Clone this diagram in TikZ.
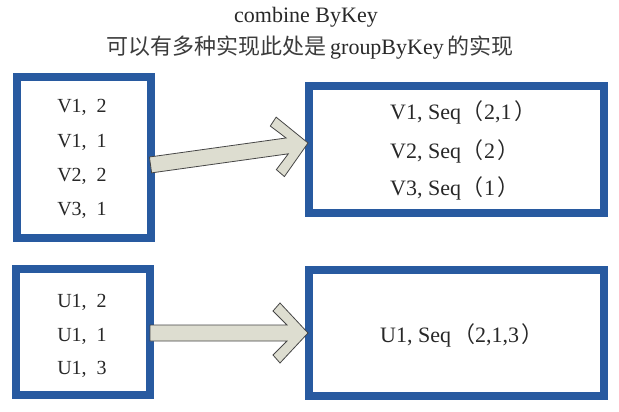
\documentclass[tikz,border=0pt]{standalone}
\usepackage{fontspec}
\setmainfont{Liberation Serif}
\newfontfamily\cjk{Noto Sans CJK SC}
\definecolor{boxblue}{RGB}{40,90,160}
\definecolor{arrowfill}{RGB}{221,221,208}
\definecolor{arrowline}{RGB}{70,70,70}
\definecolor{txt}{RGB}{40,40,40}
\tikzset{
  bluebox/.style={draw=boxblue, line width=8pt, fill=white, inner sep=0pt},
  boxtext/.style={text=txt, font=\fontsize{20}{24}\selectfont, inner sep=0pt, anchor=base},
  seqtext/.style={text=txt, font=\fontsize{22}{26}\selectfont, inner sep=0pt, anchor=base west},
  titletext/.style={text=txt, font=\fontsize{22}{26}\selectfont, inner sep=0pt, anchor=center},
  pics/chevarrow/.style={code={
    \filldraw[fill=arrowfill, draw=arrowline, line width=0.8pt, line join=miter]
      (-#1,-8) -- (-21,-8) -- (-35,-22) -- (-28,-30) -- (0,0)
      -- (-28,30) -- (-35,22) -- (-21,8) -- (-#1,8) -- cycle;
  }}
}
\newcommand\lp{{\cjk （}\hspace{1pt}}
\newcommand\rp{\hspace{2.5pt}{\cjk ）}}
\newcommand\wsp{\hspace{10pt}}
\begin{document}
\begin{tikzpicture}[x=1pt,y=-1pt]
\useasboundingbox[fill=white] (0,0) rectangle (619,412);

\node[titletext] (t1) at (306,17) {combine ByKey};
\node[titletext, text={rgb,255:red,60;green,60;blue,60}] (t2) at (310,48) {\cjk 可以有多种实现此处是\,{\rmfamily\color{txt}groupByKey}\,的实现};

% boxes
\node[bluebox, minimum width=134pt, minimum height=161pt] (b1) at (84,157.5) {};
\node[bluebox, minimum width=295pt, minimum height=127pt] (r1) at (456.5,149.5) {};
\node[bluebox, minimum width=134pt, minimum height=126pt] (b2) at (83,332) {};
\node[bluebox, minimum width=295pt, minimum height=126pt] (r2) at (456.5,333) {};

% arrows
\pic[rotate=7.93] (a1) at (308,143) {chevarrow=159};
\pic (a2) at (308,333) {chevarrow=158};

% texts
\node[boxtext] (v1) at (82,113) {V1,\wsp 2};
\node[boxtext] (v2) at (82,147) {V1,\wsp 1};
\node[boxtext] (v3) at (82,181) {V2,\wsp 2};
\node[boxtext] (v4) at (82,215) {V3,\wsp 1};

\node[seqtext] (s1) at (390,120) {V1, Seq\lp 2,1\rp};
\node[seqtext] (s2) at (390,158) {V2, Seq\lp 2\rp};
\node[seqtext] (s3) at (390,195) {V3, Seq\lp 1\rp};

\node[boxtext] (u1) at (82,307) {U1,\wsp 2};
\node[boxtext] (u2) at (82,341) {U1,\wsp 1};
\node[boxtext] (u3) at (82,374) {U1,\wsp 3};

\node[seqtext] (s4) at (380,342) {U1, Seq\hspace{2pt}{\cjk （}2,1,3\hspace{2pt}{\cjk ）}};
\end{tikzpicture}
\end{document}
